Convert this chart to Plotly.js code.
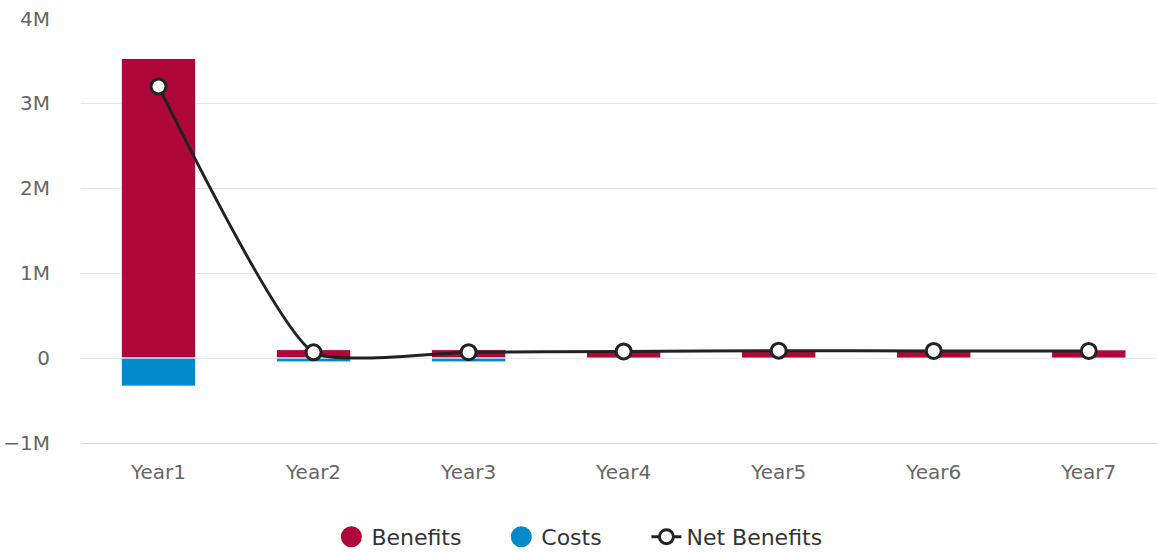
<!DOCTYPE html>
<html>
<head>
<meta charset="utf-8">
<script src="https://cdn.plot.ly/plotly-3.0.1.min.js"></script>
<style>html,body{margin:0;padding:0;background:#fff;}#chart{width:1157px;height:552px;}</style>
</head>
<body>
<div id="chart"></div>
<script>
const categories = ["Year1", "Year2", "Year3", "Year4", "Year5", "Year6", "Year7"];
const benefits = [3530000, 100000, 100000, 85000, 85000, 80000, 100000];
const costs = [-330000, -45000, -45000, 0, 0, 0, 0];
const netBenefits = [3200000, 68000, 70000, 78000, 88000, 85000, 85000];
const yTickVals = [-1000000, 0, 1000000, 2000000, 3000000, 4000000];
const yTickText = ["\u22121M", "0", "1M", "2M", "3M", "4M"];

const RED = "#b0073a", BLUE = "#0189ca", DARK = "#222222";

const traces = [
  {type: "bar", x: categories, y: benefits, name: "Benefits", showlegend: false,
   marker: {color: RED, line: {color: "#ffffff", width: 1}}, width: 0.48, hoverinfo: "y"},
  {type: "bar", x: categories, y: costs, name: "Costs", showlegend: false,
   marker: {color: BLUE, line: {color: "#ffffff", width: 1}}, width: 0.48, hoverinfo: "y"},
  {type: "scatter", mode: "lines+markers", x: categories, y: netBenefits, name: "Net Benefits", showlegend: false,
   line: {color: DARK, width: 3, shape: "spline", smoothing: 0.5},
   marker: {symbol: "circle", size: 15, color: "#ffffff", line: {color: DARK, width: 3}}},
  {type: "scatter", mode: "markers", x: [null], y: [null], name: "Benefits", legend: "legend",
   marker: {symbol: "circle", size: 23, color: RED, line: {color: RED, width: 5}}},
  {type: "scatter", mode: "markers", x: [null], y: [null], name: "Costs", legend: "legend2",
   marker: {symbol: "circle", size: 23, color: BLUE, line: {color: BLUE, width: 5}}},
  {type: "scatter", mode: "lines+markers", x: [null], y: [null], name: "Net Benefits", legend: "legend3",
   line: {color: DARK, width: 3},
   marker: {symbol: "circle", size: 14, color: "#ffffff", line: {color: DARK, width: 3}}}
];

const legendBase = {orientation: "h", xanchor: "left", y: -0.221, yanchor: "middle",
                    font: {size: 22, color: "#333333"}, bgcolor: "rgba(0,0,0,0)"};

const layout = {
  width: 1157, height: 552,
  margin: {l: 80.5, r: 0, t: 18, b: 109, pad: 0, autoexpand: false},
  paper_bgcolor: "#ffffff", plot_bgcolor: "#ffffff",
  font: {family: "DejaVu Sans, sans-serif", color: "#666666", size: 20},
  barmode: "relative",
  showlegend: true,
  legend: Object.assign({}, legendBase, {x: 0.2327}),
  legend2: Object.assign({}, legendBase, {x: 0.3906}),
  legend3: Object.assign({}, legendBase, {x: 0.5255}),
  xaxis: {type: "category", range: [-0.5, 6.44], showgrid: false, zeroline: false,
          showline: true, linecolor: "#ccd6eb", linewidth: 1, ticks: "", ticklabelstandoff: 11,
          tickfont: {size: 20, color: "#666666"}, fixedrange: true},
  yaxis: {range: [-1000000, 4006000], tickvals: yTickVals, ticktext: yTickText,
          showgrid: true, gridcolor: "#e6e6e6", gridwidth: 1, zeroline: false,
          showline: false, ticks: "", ticklabelstandoff: 30,
          tickfont: {size: 20, color: "#666666"}, fixedrange: true}
};

Plotly.newPlot("chart", traces, layout, {displayModeBar: false});
</script>
</body>
</html>
